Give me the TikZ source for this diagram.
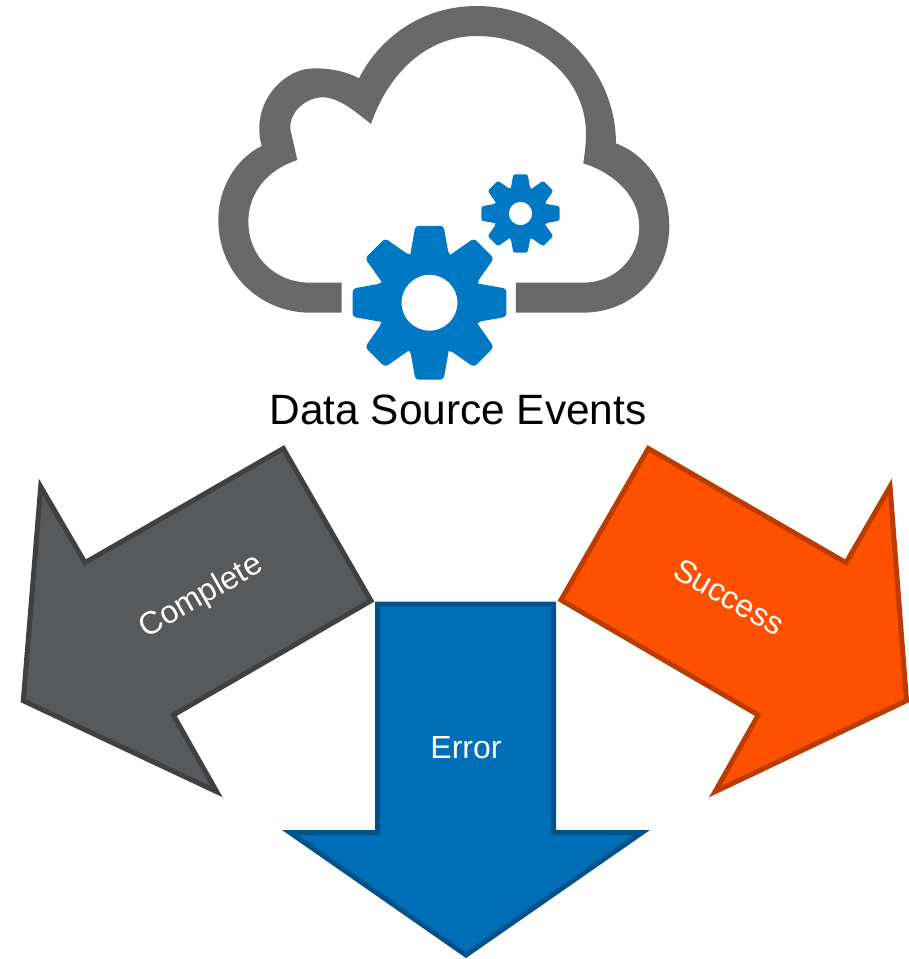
\documentclass[tikz,border=0pt]{standalone}
\usepackage{fontspec}
\setmainfont{Liberation Sans}
\definecolor{cloudgray}{HTML}{696969}
\definecolor{gearblue}{HTML}{0078C4}
\definecolor{darkfill}{HTML}{58595B}
\definecolor{darkline}{HTML}{3F4042}
\definecolor{orfill}{HTML}{FF5000}
\definecolor{orline}{HTML}{BC3C00}
\definecolor{blfill}{HTML}{006FB7}
\definecolor{blline}{HTML}{00528A}
\tikzset{
  arrowshape/.style={line width=5pt,line join=miter,miter limit=10},
  arrowlabel/.style={text=white,font=\fontsize{32}{38}\selectfont,inner sep=0pt},
  pics/gear/.style args={#1/#2/#3}{code={
    \fill[gearblue,even odd rule]
      [rounded corners=#3*3.4pt]
      (-21.7:#1*51.3) -- (-10.4:#1*77.3) -- (10.4:#1*77.3) -- (21.7:#1*51.3) [sharp corners] --
      (23.3:#1*51.3) [rounded corners=#3*3.4pt] -- (34.6:#1*77.3) -- (55.4:#1*77.3) -- (66.7:#1*51.3) [sharp corners] --
      (68.3:#1*51.3) [rounded corners=#3*3.4pt] -- (79.6:#1*77.3) -- (100.4:#1*77.3) -- (111.7:#1*51.3) [sharp corners] --
      (113.3:#1*51.3) [rounded corners=#3*3.4pt] -- (124.6:#1*77.3) -- (145.4:#1*77.3) -- (156.7:#1*51.3) [sharp corners] --
      (158.3:#1*51.3) [rounded corners=#3*3.4pt] -- (169.6:#1*77.3) -- (190.4:#1*77.3) -- (201.7:#1*51.3) [sharp corners] --
      (203.3:#1*51.3) [rounded corners=#3*3.4pt] -- (214.6:#1*77.3) -- (235.4:#1*77.3) -- (246.7:#1*51.3) [sharp corners] --
      (248.3:#1*51.3) [rounded corners=#3*3.4pt] -- (259.6:#1*77.3) -- (280.4:#1*77.3) -- (291.7:#1*51.3) [sharp corners] --
      (293.3:#1*51.3) [rounded corners=#3*3.4pt] -- (304.6:#1*77.3) -- (325.4:#1*77.3) -- (336.7:#1*51.3) [sharp corners] --
      cycle
      (0,0) circle[radius=#2];
  }}
}
\begin{document}
\begin{tikzpicture}[x=1pt,y=-1pt]
\useasboundingbox (0,0) rectangle (909,959);
% cloud
\begin{scope}[shift={(210,0)},x=0.3333pt,y=-0.3333pt]
\fill[cloudgray]
  (395,938) -- (300,938)
  .. controls (150,938) and (25,820) .. (25,660)
  .. controls (25,560) and (80,475) .. (155,438)
  .. controls (120,310) and (220,205) .. (312,205)
  .. controls (365,205) and (410,215) .. (447,235)
  .. controls (510,110) and (640,18) .. (800,18)
  .. controls (1030,18) and (1218,205) .. (1218,430)
  .. controls (1310,465) and (1378,560) .. (1378,680)
  .. controls (1378,825) and (1265,938) .. (1120,938)
  -- (918,938) -- (918,848) -- (1120,848)
  .. controls (1215,848) and (1288,775) .. (1288,680)
  .. controls (1288,590) and (1215,520) .. (1120,490)
  .. controls (1125,455) and (1128,430) .. (1128,400)
  .. controls (1128,240) and (985,108) .. (800,108)
  .. controls (650,108) and (535,220) .. (483,372)
  .. controls (430,330) and (385,292) .. (338,292)
  .. controls (280,292) and (225,350) .. (245,405)
  -- (262,480)
  .. controls (170,510) and (115,580) .. (115,665)
  .. controls (115,770) and (195,848) .. (300,848)
  -- (395,848) -- cycle;
\end{scope}
\pic at (429.5,302.7) {gear={1.012/28/1}};
\pic at (520.5,213.5) {gear={0.515/11.7/0.6}};
\node[font=\fontsize{42.4}{50}\selectfont,inner sep=0pt] (title) at (458,410) {Data Source Events};
% arrows
\draw[arrowshape,fill=darkfill,draw=darkline]
  (283.3,448.5) -- (371,600.7) -- (173.3,715) -- (216.7,791.7) -- (23.3,700.7) -- (40.7,486.7) -- (85,562.7) -- cycle;
\draw[arrowshape,fill=orfill,draw=orline]
  (648.3,448.5) -- (561,600) -- (758.3,715) -- (715,791.7) -- (906.5,700.7) -- (890,486.7) -- (846,562.7) -- cycle;
\draw[arrowshape,fill=blfill,draw=blline]
  (377.5,604) -- (553.5,604) -- (553.5,832.5) -- (642,832.5) -- (466,955) -- (290,832.5) -- (377.5,832.5) -- cycle;
\node[arrowlabel,rotate=30] (complete) at (201.5,597) {Complete};
\node[arrowlabel,rotate=-30] (success) at (729,597) {Success};
\node[arrowlabel] (error) at (466,748) {Error};
\end{tikzpicture}
\end{document}
